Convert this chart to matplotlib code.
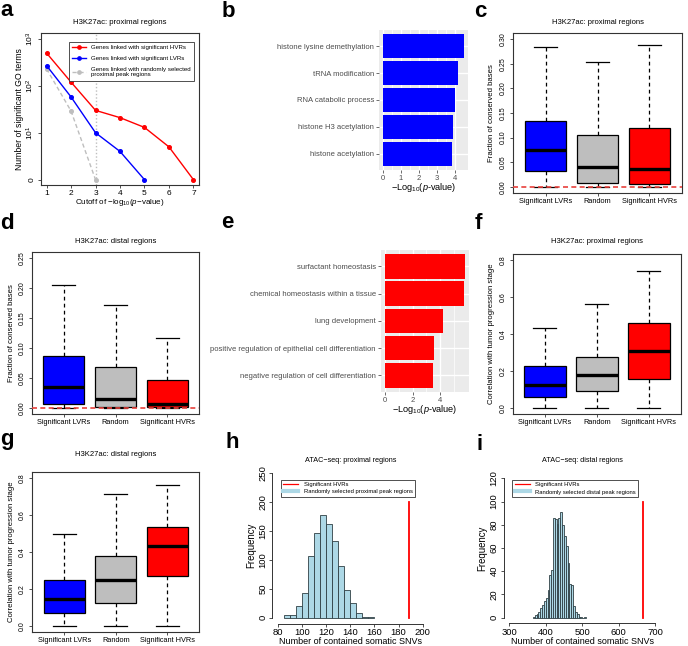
import matplotlib
matplotlib.use('Agg')
import matplotlib.pyplot as plt
from matplotlib.lines import Line2D
import numpy as np

plt.rcParams['font.family'] = ['Liberation Sans', 'DejaVu Sans']
plt.rcParams['mathtext.fontset'] = 'custom'
plt.rcParams['mathtext.rm'] = 'Liberation Sans'
plt.rcParams['mathtext.it'] = 'Liberation Sans:italic'
plt.rcParams['mathtext.bf'] = 'Liberation Sans:bold'

# ---------------- data ----------------
# panel a
cutoffs = [1, 2, 3, 4, 5, 6, 7]
go_hvr = [500, 120, 30, 21, 13, 5, 0]
go_lvr = [270, 58, 10, 4, 0]
go_rand = [230, 29, 0]
rand_cutoff = 3

# panel b
b_terms = ['histone lysine demethylation', 'tRNA modification', 'RNA catabolic process',
           'histone H3 acetylation', 'histone acetylation']
b_vals = [4.5, 4.15, 4.02, 3.91, 3.83]

# panel e
e_terms = ['surfactant homeostasis', 'chemical homeostasis within a tissue', 'lung development',
           'positive regulation of epithelial cell differentiation',
           'negative regulation of cell differentiation']
e_vals = [5.75, 5.7, 4.15, 3.52, 3.45]

# box plots: [lower whisker, Q1, median, Q3, upper whisker]
groups = ['Significant LVRs', 'Random', 'Significant HVRs']
cons_prox = [[0, 0.032, 0.074, 0.134, 0.284], [0, 0.007, 0.040, 0.106, 0.253], [0, 0.005, 0.036, 0.119, 0.289]]
cons_dist = [[0, 0.006, 0.035, 0.086, 0.205], [0, 0.001, 0.015, 0.068, 0.172], [0, 0.001, 0.007, 0.046, 0.117]]
corr_prox = [[0, 0.058, 0.126, 0.225, 0.435], [0, 0.090, 0.180, 0.279, 0.563], [0, 0.156, 0.311, 0.459, 0.743]]
corr_dist = [[0, 0.071, 0.143, 0.246, 0.495], [0, 0.125, 0.246, 0.375, 0.714], [0, 0.271, 0.429, 0.536, 0.759]]

# panel h histogram
h_edges = [85, 90, 95, 100, 105, 110, 115, 120, 125, 130, 135, 140, 145, 150, 155, 160]
h_counts = [4, 4, 20, 43, 107, 146, 177, 163, 133, 89, 48, 25, 9, 2, 1]
h_hvr = 189
h_hvr_height = 200

# panel i histogram
i_edges = list(range(365, 511, 5))
i_counts = [1, 2, 3, 5, 8, 11, 14, 17, 24, 37, 41, 86, 85, 81, 86, 91, 80, 70, 62, 47,
            29, 28, 10, 5, 3, 1, 1, 0, 1]
i_hvr = 668
i_hvr_height = 100

# ---------------- figure ----------------
W, H = 688, 646
fig = plt.figure(figsize=(W / 100, H / 100), dpi=100)


def ax_px(l, t, r, b):
    return fig.add_axes([l / W, 1 - b / H, (r - l) / W, (b - t) / H])


def txt(x, y, s, **kw):
    fig.text(x / W, 1 - y / H, s, **kw)


GRAY = '#BEBEBE'
FRAME = '#333333'


def r_frame(ax):
    for s in ax.spines.values():
        s.set_color(FRAME)
        s.set_linewidth(0.8)


# ---- panel a ----
ax = ax_px(40.7, 33.3, 199.3, 185.3)
r_frame(ax)
def tr(v):
    return np.log10(np.maximum(np.array(v, dtype=float), 1))
ax.axvline(rand_cutoff, color=GRAY, ls=(0, (1, 1.5)), lw=1.0, zorder=1)
ax.plot(cutoffs[:len(go_rand)], tr(go_rand), color=GRAY, ls=(0, (3, 2)), lw=1, marker='o', ms=2.6, zorder=2)
ax.plot(cutoffs[:len(go_lvr)], tr(go_lvr), color='#0000FF', lw=1, marker='o', ms=2.6, zorder=3)
ax.plot(cutoffs[:len(go_hvr)], tr(go_hvr), color='#FF0000', lw=1, marker='o', ms=2.6, zorder=4)
ax.set_xlim(0.76, 7.24)
ax.set_ylim(-0.12, 3.12)
ax.set_xticks(cutoffs)
ax.set_yticks([0, 1, 2, 3])
ax.set_yticklabels(['0', '$10^1$', '$10^2$', '$10^3$'], rotation=90, va='center')
ax.tick_params(axis='both', labelsize=6, length=2, width=0.6, color=FRAME, pad=1.5)
handles = [Line2D([], [], color='#FF0000', lw=1, marker='o', ms=2.4),
           Line2D([], [], color='#0000FF', lw=1, marker='o', ms=2.4),
           Line2D([], [], color=GRAY, lw=1, ls=(0, (3, 2)), marker='o', ms=2.4)]
leg = ax.legend(handles, ['Genes linked with significant HVRs', 'Genes linked with significant LVRs',
                          'Genes linked with randomly selected\nproximal peak regions'],
                loc='upper right', bbox_to_anchor=(0.9855, 0.9625), fontsize=4.4, frameon=True,
                fancybox=False, edgecolor=FRAME, framealpha=1, handlelength=2.4, borderpad=0.5,
                labelspacing=0.9, handletextpad=0.8)
leg.get_frame().set_linewidth(0.6)
leg.set_zorder(10)
txt(120, 22.7, 'H3K27ac: proximal regions', fontsize=5.6, ha='center', va='center')
txt(20, 109.3, 'Number of significant GO terms', fontsize=6.2, rotation=90, ha='center', va='center')
txt(120, 202.3, r'Cutoff of $-$log$_{10}$($p$$-$value)', fontsize=5.8, ha='center', va='center')


# ---- ggplot bar panels ----
def gg_panel(rect, terms, vals, color, ticks, minor):
    ax = ax_px(*rect)
    ax.set_facecolor('#EBEBEB')
    for s in ax.spines.values():
        s.set_visible(False)
    n = len(terms)
    pos = np.arange(n)[::-1]
    mx = max(vals)
    ax.set_xlim(-0.05 * mx, 1.05 * mx)
    ax.set_ylim(-0.6, n - 0.4)
    for m in minor:
        ax.axvline(m, color='white', lw=0.5, zorder=0)
    for t in ticks:
        ax.axvline(t, color='white', lw=1.0, zorder=0)
    for p in pos:
        ax.axhline(p, color='white', lw=1.0, zorder=0)
    ax.barh(pos, vals, height=0.9, color=color, zorder=2)
    ax.set_yticks(pos)
    ax.set_yticklabels(terms)
    ax.set_xticks(ticks)
    ax.tick_params(axis='both', labelsize=5.5, labelcolor='#4D4D4D', color='#333333',
                   length=2, width=0.5, pad=1.5)
    return ax


ax = gg_panel((379, 30, 468, 170), b_terms, b_vals, '#0000FF', [0, 1, 2, 3, 4], [0.5, 1.5, 2.5, 3.5])
txt(423.5, 188, r'$-$Log$_{10}$($p$-value)', fontsize=6.6, ha='center', va='center')

ax = gg_panel((380.5, 250, 469, 391.7), e_terms, e_vals, '#FF0000', [0, 2, 4], [1, 3, 5])
txt(424.7, 410, r'$-$Log$_{10}$($p$-value)', fontsize=6.6, ha='center', va='center')


# ---- box plot panels ----
def box_panel(rect, stats, ylim, yticks, yfmt, title, title_y, ylabel, ylabel_dx, zero_line=False):
    l, t, r, b = rect
    ax = ax_px(*rect)
    r_frame(ax)
    st = [dict(whislo=s[0], q1=s[1], med=s[2], q3=s[3], whishi=s[4], label=g, fliers=[])
          for s, g in zip(stats, groups)]
    bp = ax.bxp(st, positions=[1, 2, 3], widths=0.8, showfliers=False, patch_artist=True,
                boxprops=dict(edgecolor='black', linewidth=0.9),
                medianprops=dict(color='black', linewidth=2.4, solid_capstyle='butt'),
                whiskerprops=dict(color='black', linewidth=0.9, linestyle=(0, (3, 2.6))),
                capprops=dict(color='black', linewidth=0.9), capwidths=0.44)
    for patch, c in zip(bp['boxes'], ['#0000FF', GRAY, '#FF0000']):
        patch.set_facecolor(c)
    if zero_line:
        ax.axhline(0, color='#E8413C', lw=1.2, ls=(0, (3, 2)), zorder=5)
    ax.set_xlim(0.38, 3.62)
    ax.set_ylim(*ylim)
    ax.set_yticks(yticks)
    ax.set_yticklabels([yfmt.format(v) for v in yticks], rotation=90, va='center')
    ax.tick_params(axis='y', labelsize=5, length=2, width=0.6, color=FRAME, pad=2.6)
    ax.tick_params(axis='x', labelsize=5.3, length=2, width=0.6, color=FRAME, pad=1.8)
    cx = (l + r) / 2
    txt(cx, title_y, title, fontsize=5.5, ha='center', va='center')
    txt(l - ylabel_dx, (t + b) / 2, ylabel, fontsize=5.6, rotation=90, ha='center', va='center')
    return ax


box_panel((513.3, 33.3, 681.7, 192.7), cons_prox, (-0.012, 0.312), [0, 0.05, 0.1, 0.15, 0.2, 0.25, 0.3],
          '{:.2f}', 'H3K27ac: proximal regions', 22.7, 'Fraction of conserved bases', 21.6, True)
box_panel((31.7, 251.7, 199.3, 414), cons_dist, (-0.01, 0.26), [0, 0.05, 0.1, 0.15, 0.2, 0.25],
          '{:.2f}', 'H3K27ac: distal regions', 241.7, 'Fraction of conserved bases', 20, True)
box_panel((512.7, 254.3, 681, 414), corr_prox, (-0.032, 0.832), [0, 0.2, 0.4, 0.6, 0.8],
          '{:.1f}', 'H3K27ac: proximal regions', 241.7, 'Correlation with tumor progression stage', 21, False)
box_panel((32.3, 471.7, 199.3, 631.7), corr_dist, (-0.032, 0.832), [0, 0.2, 0.4, 0.6, 0.8],
          '{:.1f}', 'H3K27ac: distal regions', 454.3, 'Correlation with tumor progression stage', 20.6, False)


# ---- histograms ----
def hist_panel(rect, edges, counts, hvr, hvr_h, xlim, xticks, ylim, yticks, title, legtxt, leg_anchor):
    l, t, r, b = rect
    ax = ax_px(*rect)
    centers = (np.array(edges[:-1]) + np.array(edges[1:])) / 2
    ax.hist(centers, bins=edges, weights=counts, color='#ADD8E6', edgecolor='#2F3F44', linewidth=0.6)
    ax.plot([hvr, hvr], [0, hvr_h], color='#FF0000', lw=1.3)
    dx = (xlim[1] - xlim[0]) * 0.04
    dy = (ylim[1] - ylim[0]) * 0.04
    ax.set_xlim(xlim[0] - dx, xlim[1] + dx)
    ax.set_ylim(ylim[0] - dy, ylim[1] + dy)
    for s in ['top', 'right']:
        ax.spines[s].set_visible(False)
    ax.spines['bottom'].set_bounds(*xlim)
    ax.spines['left'].set_bounds(*ylim)
    for s in ['bottom', 'left']:
        ax.spines[s].set_color(FRAME)
        ax.spines[s].set_linewidth(0.7)
    ax.set_xticks(xticks)
    ax.set_yticks(yticks)
    ax.set_yticklabels([str(v) for v in yticks], rotation=90, va='center')
    ax.tick_params(axis='both', labelsize=6.8, length=2.2, width=0.6, color=FRAME, pad=1.2)
    hs = [Line2D([], [], color='#FF0000', lw=0.9), Line2D([], [], color='#ADD8E6', lw=3)]
    leg = ax.legend(hs, ['Significant HVRs', legtxt], loc='upper left', bbox_to_anchor=leg_anchor,
                    fontsize=4.2, frameon=True, fancybox=False, edgecolor=FRAME, framealpha=1,
                    handlelength=2.6, borderpad=0.45, labelspacing=0.35, handletextpad=0.9)
    leg.get_frame().set_linewidth(0.6)
    cx = (l + r) / 2
    txt(cx, 460.7, title, fontsize=5.2, ha='center', va='center')
    txt(l - 21, (t + b) / 2, 'Frequency', fontsize=6.9, rotation=90, ha='center', va='center')
    txt(cx, 641.5, 'Number of contained somatic SNVs', fontsize=6.5, ha='center', va='center')
    return ax


hist_panel((271.9, 467.5, 428.5, 623.5), h_edges, h_counts, h_hvr, h_hvr_height, (80, 200),
           [80, 100, 120, 140, 160, 180, 200], (0, 250), [0, 50, 100, 150, 200, 250],
           'ATAC\u2212seq: proximal regions', 'Randomly selected proximal peak regions', (0.037, 0.941))
hist_panel((503.5, 472.7, 660.8, 623.3), i_edges, i_counts, i_hvr, i_hvr_height, (300, 700),
           [300, 400, 500, 600, 700], (0, 120), [0, 20, 40, 60, 80, 100, 120],
           'ATAC\u2212seq: distal regions', 'Randomly selected distal peak regions', (0.035, 0.973))

# ---- panel letters ----
letters = [('a', 0, 15.7), ('b', 222, 16.7), ('c', 474, 16.7), ('d', 0, 229), ('e', 221, 228),
           ('f', 475, 229), ('g', 0, 445), ('h', 226, 448), ('i', 476, 450)]
for s, x, y in letters:
    txt(x, y, s, fontsize=16, fontweight='bold', ha='left', va='baseline')

fig.savefig('out.png', dpi=100)
